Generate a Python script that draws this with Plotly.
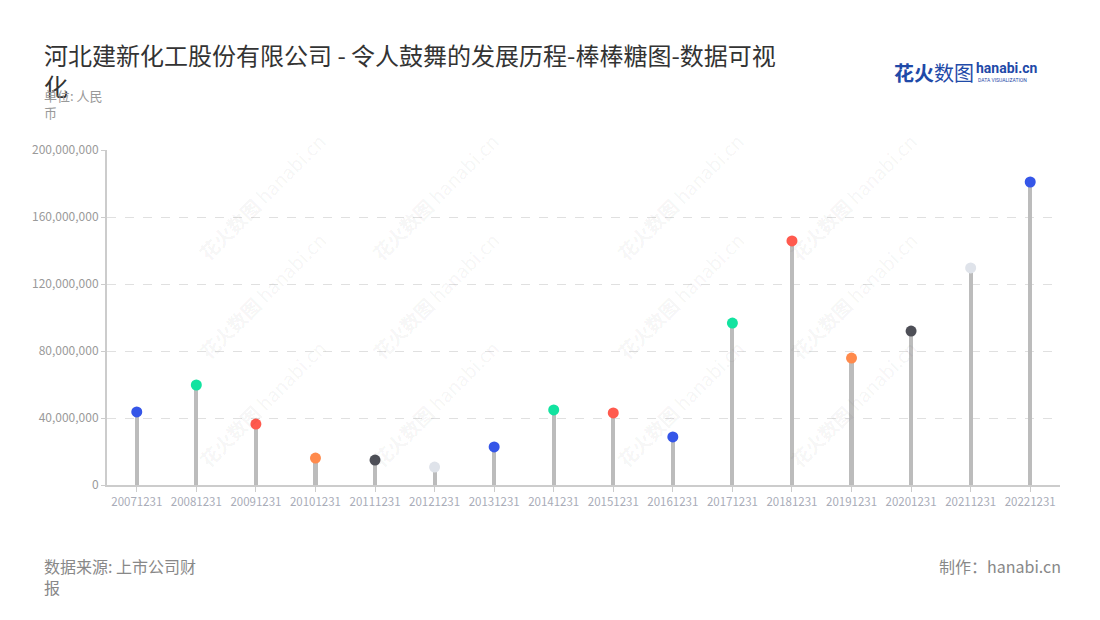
import plotly.graph_objects as go

categories = ["20071231", "20081231", "20091231", "20101231", "20111231", "20121231",
              "20131231", "20141231", "20151231", "20161231", "20171231", "20181231",
              "20191231", "20201231", "20211231", "20221231"]
values = [43600000, 59700000, 36400000, 16100000, 14900000, 10700000,
          22700000, 44800000, 43000000, 28700000, 96700000, 145700000,
          75800000, 91900000, 129600000, 180900000]
point_colors = ["#3556e8", "#12e3a0", "#ff5a4e", "#ff8a4c", "#4e4f57", "#dfe3ea",
                "#3556e8", "#12e3a0", "#ff5a4e", "#3556e8", "#12e3a0", "#ff5a4e",
                "#ff8a4c", "#4e4f57", "#dfe3ea", "#3556e8"]
y_ticks = [0, 40000000, 80000000, 120000000, 160000000, 200000000]

FONT = "Noto Sans CJK SC"

fig = go.Figure()
fig.add_trace(go.Bar(x=categories, y=values, width=0.07,
                     marker=dict(color="#bcbcbc", line=dict(width=0)),
                     hoverinfo="skip", showlegend=False))
fig.add_trace(go.Scatter(x=categories, y=values, mode="markers",
                         marker=dict(size=11, color=point_colors, line=dict(width=0)),
                         showlegend=False))

# screen-pixel helpers relative to plot area (plot area: x 107..1060, y 150..485 on screen)
def px_x(p):
    return (p - 107) / 953

def px_y(p):
    return (485 - p) / 335

annotations = []
# watermarks
for wx in [190, 435, 680, 925]:
    for wy in [125, 295, 475]:
        annotations.append(dict(xref="paper", yref="paper",
                                x=px_x(wx), y=px_y(wy),
                                text="<b>花火数图</b> hanabi.cn", showarrow=False,
                                textangle=-45,
                                font=dict(family=FONT, size=19, color="rgba(0,0,0,0.05)")))

annotations += [
    dict(xref="paper", yref="paper", x=px_x(42), y=px_y(84), xanchor="left", yanchor="top",
         align="left", text="单位: 人民<br>币", showarrow=False,
         font=dict(family=FONT, size=13, color="#999999")),
    dict(xref="paper", yref="paper", x=px_x(42), y=px_y(552), xanchor="left", yanchor="top",
         align="left", text="数据来源: 上市公司财<br>报", showarrow=False,
         font=dict(family=FONT, size=16, color="#888888")),
    dict(xref="paper", yref="paper", x=px_x(1063), y=px_y(552), xanchor="right", yanchor="top",
         align="right", text="制作：hanabi.cn", showarrow=False,
         font=dict(family=FONT, size=16, color="#888888")),
    dict(xref="paper", yref="paper", x=px_x(892), y=px_y(72), xanchor="left", yanchor="middle",
         text="<b>花火</b>数图", showarrow=False,
         font=dict(family=FONT, size=20, color="#1f4aa8")),
    dict(xref="paper", yref="paper", x=px_x(974), y=px_y(68), xanchor="left", yanchor="middle",
         text="<b>hanabi.cn</b>", showarrow=False,
         font=dict(family="Roboto", size=14, color="#1f4aa8")),
    dict(xref="paper", yref="paper", x=px_x(976), y=px_y(80), xanchor="left", yanchor="middle",
         text="DATA VISUALIZATION", showarrow=False,
         font=dict(family="Roboto", size=5, color="#1f4aa8")),
]

fig.update_layout(
    width=1100, height=620,
    margin=dict(l=99, r=48, t=142, b=143),
    paper_bgcolor="white", plot_bgcolor="white",
    title=dict(text="河北建新化工股份有限公司 - 令人鼓舞的发展历程-棒棒糖图-数据可视<br>化",
               xref="container", yref="container", x=36 / 1100, xanchor="left",
               y=1 - 57 / 620, yanchor="top",
               font=dict(family=FONT, size=24, color="#333333")),
    font=dict(family=FONT),
    annotations=annotations,
    bargap=0,
    xaxis=dict(type="category", categoryorder="array", categoryarray=categories,
               range=[-0.5, len(categories) - 0.5], autorange=False,
               showgrid=False, showline=True, linecolor="#cccccc", linewidth=2,
               ticks="outside", ticklen=5, tickcolor="#cccccc", tickwidth=1,
               tickfont=dict(family=FONT, size=11.5, color="#a9acb8"), fixedrange=True),
    yaxis=dict(range=[0, 200000000], tickvals=y_ticks, tickformat=",d",
               showgrid=True, gridcolor="#e0e0e0", griddash="dash", gridwidth=1,
               showline=True, linecolor="#cccccc", linewidth=2, zeroline=False,
               ticks="outside", ticklen=4, tickcolor="#cccccc",
               tickfont=dict(family=FONT, size=12, color="#9a9a9a"), fixedrange=True),
)

fig.write_html("out.html")
